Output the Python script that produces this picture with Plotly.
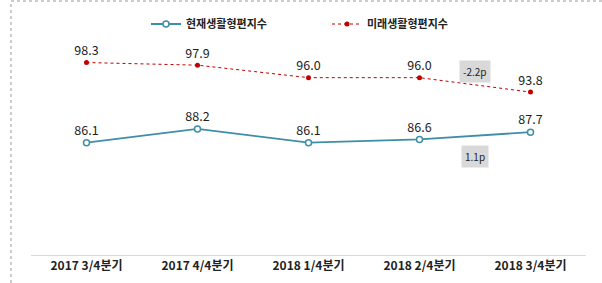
import plotly.graph_objects as go

categories = ["2017 3/4분기", "2017 4/4분기", "2018 1/4분기", "2018 2/4분기", "2018 3/4분기"]
current_idx = [86.1, 88.2, 86.1, 86.6, 87.7]
future_idx = [98.3, 97.9, 96.0, 96.0, 93.8]
series_names = ["현재생활형편지수", "미래생활형편지수"]
diff_labels = ["-2.2p", "1.1p"]

FONT = "Noto Sans CJK KR, Roboto, sans-serif"
BLUE = "#3f8ea8"
RED = "#c00000"

W, H = 602, 283
L, R, T, B = 31, 16, 10, 28
ymin, ymax = 69.0, 106.3

fig = go.Figure()
fig.add_trace(go.Scatter(
    x=categories, y=current_idx, name=series_names[0], legend="legend",
    mode="lines+markers+text",
    line=dict(color=BLUE, width=1.8),
    marker=dict(symbol="circle", size=6, color="white", line=dict(color=BLUE, width=1.5)),
    text=[f"{v:.1f}" for v in current_idx], textposition="top center",
    textfont=dict(size=12.5, color="#222", family=FONT),
))
fig.add_trace(go.Scatter(
    x=categories, y=future_idx, name=series_names[1], legend="legend2",
    mode="lines+markers+text",
    line=dict(color=RED, width=1, dash="dot"),
    marker=dict(symbol="circle", size=5, color=RED),
    text=[f"{v:.1f}" for v in future_idx], textposition="top center",
    textfont=dict(size=12.5, color="#222", family=FONT),
))

fig.add_annotation(x=3.5, y=future_idx[4] + 3.2, text=diff_labels[0], showarrow=False,
                   bgcolor="#d9d9d9", font=dict(size=10, color="#222", family=FONT),
                   borderpad=3)
fig.add_annotation(x=3.5, y=current_idx[4] - 3.7, text=diff_labels[1], showarrow=False,
                   bgcolor="#d9d9d9", font=dict(size=10, color="#222", family=FONT),
                   borderpad=3)

pw = W - L - R
ph = H - T - B
fig.add_shape(type="line", xref="paper", yref="paper",
              x0=(11 - L) / pw, x1=(W - L) / pw + 0.01, y0=(H - B - 1) / ph, y1=(H - B - 1) / ph,
              line=dict(color="#999", width=1, dash="dot"))
fig.add_shape(type="line", xref="paper", yref="paper",
              x0=(11 - L) / pw, x1=(11 - L) / pw, y0=-B / ph, y1=(H - B - 1) / ph,
              line=dict(color="#999", width=1, dash="dot"))

legend_common = dict(orientation="h", yanchor="middle", y=(H - B - 24) / ph,
                     xanchor="left",
                     font=dict(size=11, color="#222", family=FONT, weight="bold"),
                     itemwidth=30, bgcolor="rgba(0,0,0,0)")

fig.update_layout(
    width=W, height=H,
    margin=dict(l=L, r=R, t=T, b=B, autoexpand=False),
    paper_bgcolor="white", plot_bgcolor="white",
    font=dict(family=FONT, size=11, color="#222"),
    showlegend=True,
    legend=dict(x=(146 - L) / pw, **legend_common),
    legend2=dict(x=(327 - L) / pw, **legend_common),
    xaxis=dict(type="category", range=[-0.5, 4.5], showgrid=False, zeroline=False,
               showline=True, linecolor="#d9d9d9", linewidth=1, ticks="",
               tickfont=dict(size=12, color="#222", family=FONT, weight="bold")),
    yaxis=dict(range=[ymin, ymax], showgrid=False, zeroline=False, showline=False,
               showticklabels=False, ticks=""),
)

fig.write_html("out.html")
